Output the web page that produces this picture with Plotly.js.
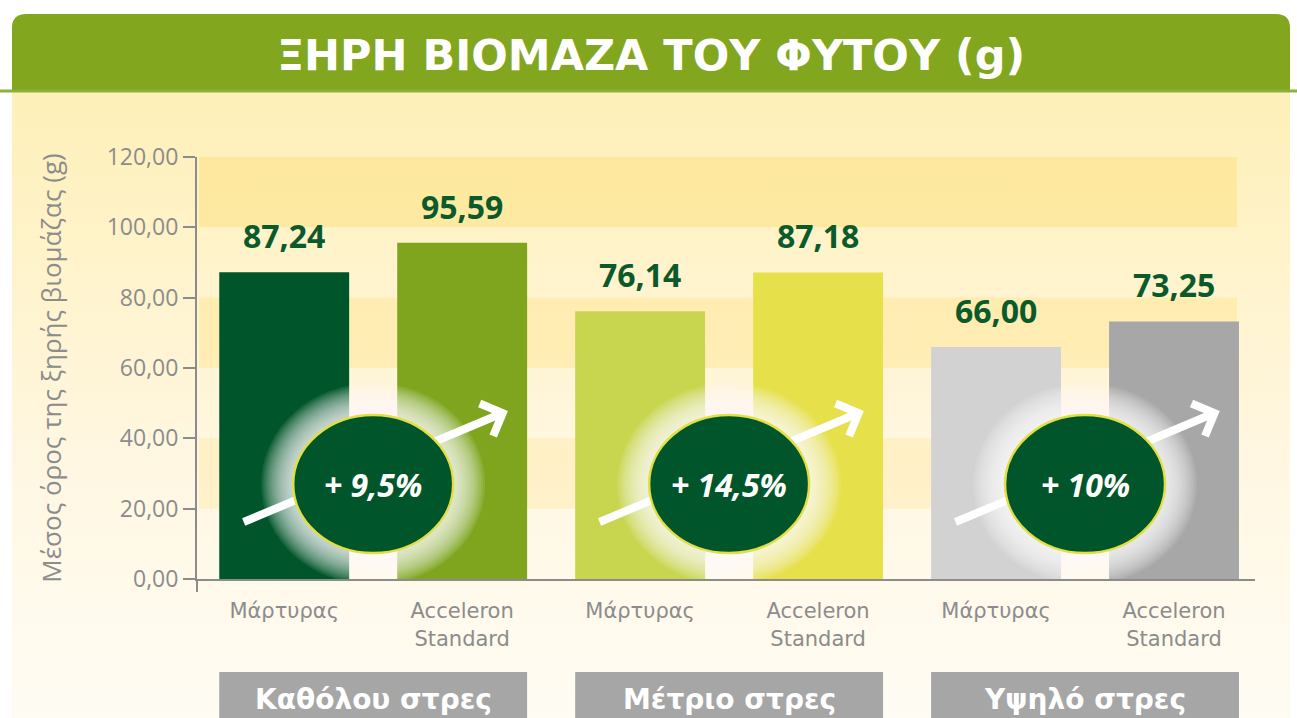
<!DOCTYPE html>
<html><head><meta charset="utf-8">
<script src="https://cdn.plot.ly/plotly-3.0.1.min.js"></script>
<style>
html,body{margin:0;padding:0;background:#ffffff;}
#bg{position:absolute;left:12px;top:90px;width:1278px;height:628px;background:linear-gradient(#FEF0B8,#FFF7E2 60%,#FFFCF4);}
#chart{position:absolute;left:0;top:0;width:1297px;height:718px;}
</style></head>
<body><div id="bg"></div><div id="chart"></div>
<script>
// ---- data ----
const categories = ['Μάρτυρας', 'Acceleron<br>Standard', 'Μάρτυρας', 'Acceleron<br>Standard', 'Μάρτυρας', 'Acceleron<br>Standard'];
const biomass = [87.24, 95.59, 76.14, 87.18, 66.00, 73.25];
const groups = ['Καθόλου στρες', 'Μέτριο στρες', 'Υψηλό στρες'];
const increases = ['+ 9,5%', '+ 14,5%', '+ 10%'];
const yTicks = [0, 20, 40, 60, 80, 100, 120];
const chartTitle = 'ΞΗΡΗ ΒΙΟΜΑΖΑ ΤΟΥ ΦΥΤΟΥ (g)';
const yTitle = 'Μέσος όρος της ξηρής βιομάζας (g)';

// ---- styling ----
const barColors = ['#00562A', '#7FA51F', '#C8D64F', '#E6E04A', '#D2D2D2', '#A7A7A7'];
const FONT = 'Open Sans, Noto Sans, sans-serif';
const WIDE = 'DejaVu Sans, sans-serif';
const GRAY = '#8C8C8C';
const DKGREEN = '#0B5A2B';

// pixel -> paper helpers (plot area: x 197..1255, y 157..579)
const PL = 197, PR = 1255, PT = 157, PB = 579;
const px = v => (v - PL) / (PR - PL);
const py = v => (PB - v) / (PB - PT);

const xs = categories.map((c, i) => i);

const shapes = [];
// header band with rounded top corners
const hx0 = px(12), hx1 = px(1290), hy0 = py(91), hy1 = py(14);
const rx = 14 / (PR - PL), ry = 14 / (PB - PT);
shapes.push({type: 'path', xref: 'paper', yref: 'paper', layer: 'below',
  path: `M${hx0},${hy0} L${hx0},${hy1 - ry} Q${hx0},${hy1} ${hx0 + rx},${hy1} L${hx1 - rx},${hy1} Q${hx1},${hy1} ${hx1},${hy1 - ry} L${hx1},${hy0} Z`,
  fillcolor: '#82A61E', line: {width: 0}});
shapes.push({type: 'line', xref: 'paper', yref: 'paper', layer: 'below',
  x0: px(0), x1: px(1297), y0: py(91), y1: py(91), line: {color: '#8DB03A', width: 3}});
// stripes
[[20, 40, 0.22], [60, 80, 0.3], [100, 120, 0.38]].forEach(s => {
  shapes.push({type: 'rect', xref: 'paper', yref: 'y', layer: 'below',
    x0: px(199), x1: px(1237), y0: s[0], y1: s[1],
    fillcolor: `rgba(254,218,105,${s[2]})`, line: {width: 0}});
});
// small tick under left end of x axis
shapes.push({type: 'line', xref: 'paper', yref: 'paper', x0: 0, x1: 0, y0: py(579), y1: py(592),
  line: {color: GRAY, width: 2}});

// group boxes
groups.forEach((g, k) => {
  shapes.push({type: 'rect', xref: 'x', yref: 'paper', layer: 'above',
    x0: 2 * k - 0.365, x1: 2 * k + 1.365, y0: py(740), y1: py(672),
    fillcolor: '#A6A6A6', line: {width: 0}});
});

// arrows + glow + ellipses
const ellY = 27;
groups.forEach((g, k) => {
  const cx = 2 * k + 0.5;
  const base = {xref: 'x', yref: 'y', xsizemode: 'pixel', ysizemode: 'pixel', xanchor: cx, yanchor: ellY, layer: 'above'};
  shapes.push(Object.assign({}, base, {type: 'path',
    path: 'M-129.5,-38 L129.5,71', line: {color: '#FFFFFF', width: 8}}));
  shapes.push(Object.assign({}, base, {type: 'path',
    path: 'M106.5,80.5 L129.5,71 L120,48', line: {color: '#FFFFFF', width: 8}}));
  for (let i = 16; i >= 1; i--) {
    const d = i * 2;
    shapes.push(Object.assign({}, base, {type: 'circle',
      x0: -80 - d, x1: 80 + d, y0: -69 - d, y1: 69 + d,
      fillcolor: 'rgba(255,255,255,0.09)', line: {width: 0}}));
  }
  shapes.push(Object.assign({}, base, {type: 'circle',
    x0: -80, x1: 80, y0: -69, y1: 69,
    fillcolor: '#00562A', line: {color: '#E2DE45', width: 2.5}}));
});

const annotations = [];
biomass.forEach((v, i) => {
  annotations.push({x: i, y: v, xref: 'x', yref: 'y', yanchor: 'bottom', yshift: 13,
    text: v.toFixed(2).replace('.', ','), showarrow: false,
    font: {family: FONT, size: 32, weight: 700, color: DKGREEN}});
});
groups.forEach((g, k) => {
  annotations.push({x: 2 * k + 0.5, y: ellY, xref: 'x', yref: 'y', showarrow: false,
    text: increases[k], font: {family: FONT, size: 32, weight: 700, style: 'italic', color: '#FFFFFF'}});
  annotations.push({x: 2 * k + 0.5, y: py(699), xref: 'x', yref: 'paper', yanchor: 'middle', showarrow: false,
    text: g, font: {family: WIDE, size: 28, weight: 700, color: '#FFFFFF'}});
});

const trace = {type: 'bar', x: xs, y: biomass, width: 0.73,
  marker: {color: barColors, line: {width: 0}}, hoverinfo: 'skip'};

const layout = {
  width: 1297, height: 718,
  margin: {l: PL, r: 1297 - PR, t: PT, b: 718 - PB},
  paper_bgcolor: 'rgba(0,0,0,0)', plot_bgcolor: 'rgba(0,0,0,0)',
  separators: ',.',
  showlegend: false,
  title: {text: chartTitle, xref: 'container', yref: 'container', x: 651 / 1297, y: 1 - 55 / 718,
    xanchor: 'center', yanchor: 'middle',
    font: {family: WIDE, size: 43, weight: 700, color: '#FFFFFF'}},
  xaxis: {range: [-0.49, 5.455], tickvals: xs, ticktext: categories, showline: true,
    linecolor: GRAY, linewidth: 2, ticks: '', showgrid: false, zeroline: false,
    ticklabelstandoff: 12,
    tickfont: {family: WIDE, size: 21, color: GRAY}, fixedrange: true},
  yaxis: {range: [0, 120], tickvals: yTicks, tickformat: '.2f', showline: true,
    linecolor: GRAY, linewidth: 2, ticks: 'outside', ticklen: 12, tickwidth: 2, tickcolor: GRAY,
    showgrid: false, zeroline: false,
    tickfont: {family: FONT, size: 23, color: GRAY},
    title: {text: yTitle, standoff: 38, font: {family: FONT, size: 26, color: GRAY}},
    fixedrange: true},
  shapes: shapes,
  annotations: annotations
};

Plotly.newPlot('chart', [trace], layout, {displayModeBar: false, staticPlot: true});
</script>
</body></html>
